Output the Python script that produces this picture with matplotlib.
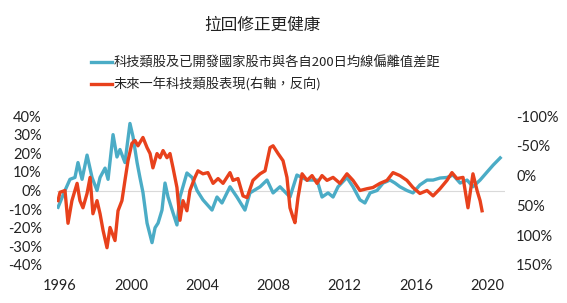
import matplotlib
matplotlib.use("Agg")
import matplotlib.pyplot as plt

# left axis: tech vs developed markets, deviation from own 200-day MA (%)
blue_year = [1995.89, 1996.28, 1996.56, 1996.84, 1997.01, 1997.24, 1997.52, 1997.80, 1998.08, 1998.25,
             1998.53, 1998.70, 1998.98, 1999.20, 1999.37, 1999.65, 1999.93, 2000.10, 2000.33, 2000.49,
             2000.66, 2000.89, 2001.17, 2001.34, 2001.51, 2001.73, 2001.90, 2002.07, 2002.35, 2002.57,
             2002.74, 2003.13, 2003.42, 2003.70, 2004.03, 2004.54, 2004.82, 2005.10, 2005.55, 2005.94,
             2006.39, 2006.67, 2007.24, 2007.63, 2007.97, 2008.36, 2008.92, 2009.31, 2009.88, 2010.44,
             2010.72, 2011.06, 2011.34, 2011.62, 2012.12, 2012.46, 2012.85, 2013.13, 2013.42, 2013.81,
             2014.15, 2014.54, 2014.82, 2015.10, 2015.49, 2015.83, 2016.22, 2016.62, 2016.96, 2017.35,
             2017.74, 2018.08, 2018.48, 2018.87, 2019.20, 2019.60, 2020.00, 2020.34, 2020.73]
blue_val = [-9, 0, 6, 7, 15, 6, 19, 7, 0, 7,
            12, 6, 30, 18, 22, 15, 36, 29, 15, 7,
            -1, -17.5, -28, -20, -17.5, -10.5, 4, -3.5, -12, -18.5,
            -3.5, 9.4, 7, 0, -5, -10.5, -3.5, -6.7, 2, -3.5,
            -10.5, -1.3, 2, 5.6, -1.3, 2, -3.5, 8.3, 5.6, 5.6,
            -3.5, -1.3, -3.5, 2, 7, 2, -5, -6.7, -1.3, 0,
            4, 5.6, 4, 2, 0, -1.3, 3, 5.6, 5.6, 6.7,
            7, 8.3, 4, 5.6, 2, 5.6, 10, 13.7, 17.5]

# right axis (inverted): tech sector return over the next year (%)
red_year = [1995.89, 1996.00, 1996.28, 1996.45, 1996.67, 1996.96, 1997.12, 1997.29, 1997.52, 1997.69,
            1997.85, 1998.08, 1998.25, 1998.42, 1998.64, 1998.81, 1999.09, 1999.26, 1999.48, 1999.65,
            1999.82, 2000.04, 2000.21, 2000.38, 2000.66, 2000.89, 2001.06, 2001.22, 2001.45, 2001.62,
            2001.79, 2002.01, 2002.18, 2002.35, 2002.57, 2002.74, 2002.91, 2003.13, 2003.30, 2003.58,
            2003.75, 2004.03, 2004.31, 2004.60, 2004.88, 2005.16, 2005.55, 2005.72, 2006.00, 2006.28,
            2006.51, 2006.84, 2007.24, 2007.52, 2007.80, 2007.97, 2008.25, 2008.53, 2008.75, 2008.92,
            2009.09, 2009.20, 2009.37, 2009.60, 2009.88, 2010.16, 2010.44, 2010.72, 2011.00, 2011.34,
            2011.73, 2012.12, 2012.46, 2012.85, 2013.25, 2013.58, 2013.98, 2014.37, 2014.71, 2015.10,
            2015.49, 2015.83, 2016.22, 2016.62, 2016.96, 2017.35, 2017.74, 2018.02, 2018.30, 2018.64,
            2018.92, 2019.20, 2019.43, 2019.60, 2019.71]
red_val = [42, 28, 25, 80, 42, 13, 42, 54, 30, 3,
           64, 42, 64, 92, 121, 87, 109, 59, 42, 8,
           -25, -54, -59, -50, -64, -47, -37, -13, -37, -30,
           -42, -30, -37, -13, 20, 75, 42, 59, 25, 3,
           -8, -3, -5, 13, 5, 13, -5, 8, 5, 34,
           37, 8, -3, -8, -47, -50, -37, -25, 3, 54,
           70, 79, 37, -3, 8, 0, 13, 0, 8, 3,
           13, -3, 8, 25, 22, 20, 13, 8, -5, 0,
           8, 20, 30, 25, 34, 22, 8, -5, 5, 3,
           54, -3, 25, 42, 59]

year_ticks = [1996, 2000, 2004, 2008, 2012, 2016, 2020]
left_ticks = [40, 30, 20, 10, 0, -10, -20, -30, -40]
right_ticks = [-100, -50, 0, 50, 100, 150]

title = "拉回修正更健康"
blue_label = "科技類股及已開發國家股市與各自200日均線偏離值差距"
red_label = "未來一年科技類股表現(右軸，反向)"

BLUE = "#4bacc6"
RED = "#e8411c"
cjk = ["Noto Sans CJK TC", "DejaVu Sans"]
num_font = "Lato"

fig = plt.figure(figsize=(5.67, 3.03), dpi=100)
ax = fig.add_axes([57 / 567, 1 - 265 / 303, 448 / 567, 149 / 303])
ax2 = ax.twinx()

ax.axhline(0, color="#d9d9d9", lw=0.8, zorder=1)
l1, = ax.plot(blue_year, blue_val, color=BLUE, lw=2.4, zorder=2)
l2, = ax2.plot(red_year, red_val, color=RED, lw=2.4, zorder=3)

ax.set_xlim(1996 - 3 / 17.8, 1996 + 445 / 17.8)
ax.set_ylim(-40, 40)
ax2.set_ylim(150, -100)

ax.set_xticks(year_ticks)
ax.set_xticklabels([str(y) for y in year_ticks], fontname=num_font, fontsize=10.5)
ax.set_yticks(left_ticks)
ax.set_yticklabels([f"{v}%" for v in left_ticks], fontname=num_font, fontsize=10.5)
ax2.set_yticks(right_ticks)
ax2.set_yticklabels([f"{v}%" for v in right_ticks], fontname=num_font, fontsize=10.5)

for a in (ax, ax2):
    for s in a.spines.values():
        s.set_visible(False)
    a.tick_params(length=0, colors="#222222")
ax.tick_params(axis="y", pad=11)
ax.tick_params(axis="x", pad=10)
ax2.tick_params(axis="y", pad=8)

fig.text(262 / 567, 1 - 25 / 303, title, family=cjk, fontsize=12,
         ha="center", va="center", color="#222222")

leg = fig.legend([l1, l2], [blue_label, red_label], loc="center left",
                 bbox_to_anchor=(86 / 567, 1 - 74 / 303), frameon=False,
                 prop={"family": cjk, "size": 9.5}, handlelength=1.6,
                 handletextpad=0.1, labelspacing=0.55, borderaxespad=0)
for t in leg.get_texts():
    t.set_color("#222222")

fig.savefig("out.png", dpi=100)
